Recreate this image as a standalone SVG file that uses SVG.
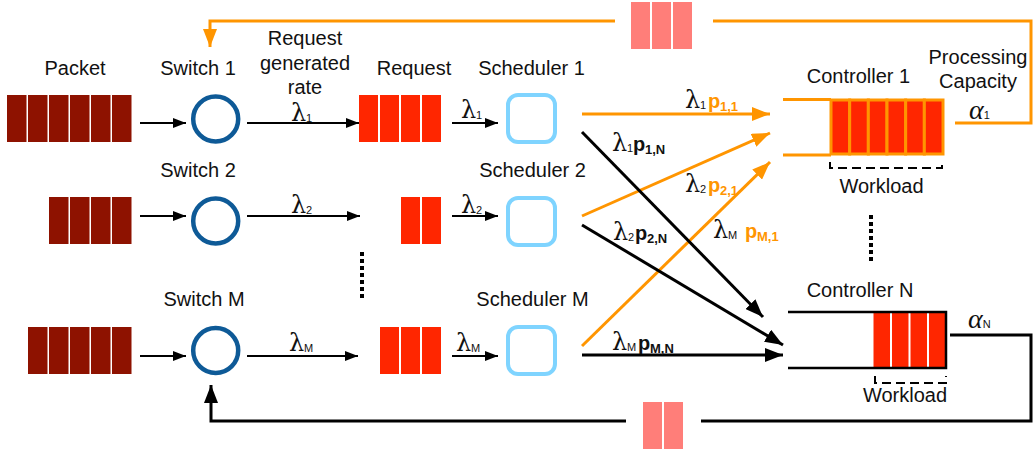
<svg xmlns="http://www.w3.org/2000/svg" width="1033" height="455" viewBox="0 0 1033 455">
<style>
text{font-family:"Liberation Sans",Arial,sans-serif;fill:#111}
.t{font-size:20px}
.m{text-anchor:middle}
.pk{fill:#8e1200}
.rq{fill:#ff2600}
.pn{fill:#ff7e79}
.sw{fill:none;stroke:#0e5a97;stroke-width:4.5}
.sc{fill:none;stroke:#7fd4ff;stroke-width:4}
.lam{font-family:"DejaVu Serif","Liberation Serif",serif;font-size:24px}
.sub{font-size:11px}
.pb{font-size:20px;font-weight:bold}
.ps{font-size:13px;font-weight:bold}
.or{fill:#ff9500}
.alpha{font-family:"Liberation Serif",serif;font-style:italic;font-size:28px}
.ln{fill:none;stroke:#000;stroke-width:2}
.lk{fill:none;stroke:#000;stroke-width:3}
.lo{fill:none;stroke:#ff9500;stroke-width:3}
.dot{fill:none;stroke:#000;stroke-width:4;stroke-dasharray:4 3}
.wl{fill:none;stroke:#000;stroke-width:2;stroke-dasharray:9 5}
</style>
<defs>
<marker id="as" markerUnits="userSpaceOnUse" markerWidth="13" markerHeight="10" refX="13" refY="5" orient="auto"><path d="M0,0 L13,5 L0,10 z" fill="#000"/></marker>
<marker id="ab" markerUnits="userSpaceOnUse" markerWidth="18" markerHeight="14" refX="18" refY="7" orient="auto"><path d="M0,0 L18,7 L0,14 z" fill="#000"/></marker>
<marker id="ao" markerUnits="userSpaceOnUse" markerWidth="18" markerHeight="14" refX="18" refY="7" orient="auto"><path d="M0,0 L18,7 L0,14 z" fill="#ff9500"/></marker>
</defs>

<g id="labels-top">
<text class="t m" x="75" y="75">Packet</text>
<text class="t m" x="305" y="45">Request</text>
<text class="t m" x="305" y="70">generated</text>
<text class="t m" x="305" y="94">rate</text>
<text class="t m" x="414" y="75">Request</text>
</g>

<g id="packet1"><rect class="pk" x="7" y="95" width="19.5" height="47"/><rect class="pk" x="28" y="95" width="19.5" height="47"/><rect class="pk" x="49" y="95" width="19.5" height="47"/><rect class="pk" x="70" y="95" width="19.5" height="47"/><rect class="pk" x="91" y="95" width="19.5" height="47"/><rect class="pk" x="112" y="95" width="19.5" height="47"/></g>
<g id="packet2"><rect class="pk" x="49" y="197" width="19.5" height="47"/><rect class="pk" x="70" y="197" width="19.5" height="47"/><rect class="pk" x="91" y="197" width="19.5" height="47"/><rect class="pk" x="112" y="197" width="19.5" height="47"/></g>
<g id="packetM"><rect class="pk" x="28" y="327" width="19.5" height="47"/><rect class="pk" x="49" y="327" width="19.5" height="47"/><rect class="pk" x="70" y="327" width="19.5" height="47"/><rect class="pk" x="91" y="327" width="19.5" height="47"/><rect class="pk" x="112" y="327" width="19.5" height="47"/></g>

<g id="switch1"><text class="t m" x="198" y="75">Switch 1</text><circle class="sw" cx="215.7" cy="119" r="22.5"/></g>
<g id="switch2"><text class="t m" x="198" y="177">Switch 2</text><circle class="sw" cx="215.7" cy="221" r="22.5"/></g>
<g id="switchM"><text class="t m" x="204" y="306">Switch M</text><circle class="sw" cx="215.7" cy="350.5" r="22.5"/></g>

<g id="request1"><rect class="rq" x="359" y="95" width="19" height="47"/><rect class="rq" x="380" y="95" width="19" height="47"/><rect class="rq" x="401" y="95" width="19" height="47"/><rect class="rq" x="422" y="95" width="19" height="47"/></g>
<g id="request2"><rect class="rq" x="401" y="197" width="19" height="47"/><rect class="rq" x="422" y="197" width="19" height="47"/></g>
<g id="requestM"><rect class="rq" x="380" y="327" width="19" height="47"/><rect class="rq" x="401" y="327" width="19" height="47"/><rect class="rq" x="422" y="327" width="19" height="47"/></g>
<g id="dots-requests"><path class="dot" d="M362 252 V300"/></g>

<g id="scheduler1"><text class="t m" x="531.5" y="75">Scheduler 1</text><rect class="sc" x="508" y="95" width="47" height="47" rx="10"/></g>
<g id="scheduler2"><text class="t m" x="532.5" y="177">Scheduler 2</text><rect class="sc" x="508" y="198" width="47" height="47" rx="10"/></g>
<g id="schedulerM"><text class="t m" x="532.5" y="306">Scheduler M</text><rect class="sc" x="508" y="327" width="47" height="47" rx="10"/></g>

<g id="controller1">
<text class="t m" x="858.5" y="83">Controller 1</text>
<path class="lo" d="M783 99.5 H831 M783 155 H831"/>
<rect x="831" y="100" width="18.67" height="54" fill="#ff2600" stroke="#ff9500" stroke-width="3"/>
<rect x="849.67" y="100" width="18.67" height="54" fill="#ff2600" stroke="#ff9500" stroke-width="3"/>
<rect x="868.33" y="100" width="18.67" height="54" fill="#ff2600" stroke="#ff9500" stroke-width="3"/>
<rect x="887" y="100" width="18.67" height="54" fill="#ff2600" stroke="#ff9500" stroke-width="3"/>
<rect x="905.67" y="100" width="18.67" height="54" fill="#ff2600" stroke="#ff9500" stroke-width="3"/>
<rect x="924.33" y="100" width="18.67" height="54" fill="#ff2600" stroke="#ff9500" stroke-width="3"/>
<path class="wl" d="M830 162 V168 H942 V162"/>
<text class="t m" x="881.5" y="193">Workload</text>
<text class="t m" x="978" y="64">Processing</text>
<text class="t m" x="978" y="88">Capacity</text>
<text x="969" y="119"><tspan class="alpha">α</tspan><tspan class="sub" font-size="12">1</tspan></text>
</g>
<g id="dots-controllers"><path class="dot" d="M871 215 V263"/></g>
<g id="controllerN">
<text class="t m" x="860" y="297">Controller N</text>
<rect class="rq" x="873.5" y="313" width="16.5" height="54"/>
<rect class="rq" x="892" y="313" width="16.5" height="54"/>
<rect class="rq" x="910.5" y="313" width="16.5" height="54"/>
<rect class="rq" x="929" y="313" width="16.5" height="54"/>
<path d="M788 312 H946 V368 H788" fill="none" stroke="#000" stroke-width="2.5"/>
<path class="wl" d="M875 376 V383 H946 V376"/>
<text class="t m" x="905" y="402">Workload</text>
<text x="968" y="328"><tspan class="alpha">α</tspan><tspan class="sub" font-size="12">N</tspan></text>
</g>

<g id="feedback-queue-top"><rect class="pn" x="631" y="2" width="19" height="47"/><rect class="pn" x="652" y="2" width="19" height="47"/><rect class="pn" x="673" y="2" width="19" height="47"/></g>
<g id="feedback-queue-bottom"><rect class="pn" x="643" y="402" width="19" height="47"/><rect class="pn" x="664" y="402" width="19" height="47"/></g>

<g id="connectors">
<path class="ln" d="M140 123 H186" marker-end="url(#as)"/>
<path class="ln" d="M140 216 H186" marker-end="url(#as)"/>
<path class="ln" d="M140 356 H186" marker-end="url(#as)"/>
<path class="ln" d="M247 123 H359" marker-end="url(#as)"/>
<path class="ln" d="M247 216 H360" marker-end="url(#as)"/>
<path class="ln" d="M247 356 H358" marker-end="url(#as)"/>
<path class="ln" d="M452 123 H498" marker-end="url(#as)"/>
<path class="ln" d="M452 216 H498" marker-end="url(#as)"/>
<path class="ln" d="M452 356 H498" marker-end="url(#as)"/>
<path class="lo" d="M582 114 H770" marker-end="url(#ao)"/>
<path class="lo" d="M582 216 L770 133" marker-end="url(#ao)"/>
<path class="lo" d="M582 346 L770 162" marker-end="url(#ao)"/>
<path class="lk" d="M582 132 L763 317" marker-end="url(#ab)"/>
<path class="lk" d="M582 225 L783 345" marker-end="url(#ab)"/>
<path class="lk" d="M582 355 H783" marker-end="url(#ab)"/>
<path class="lo" d="M955 123 H1031 V21 H713"/>
<path class="lo" d="M615 21 H210 V47" marker-end="url(#ao)"/>
<path class="lk" d="M950 335 H1031 V421 H701"/>
<path class="lk" d="M626 421 H211 V385" marker-end="url(#ab)"/>
</g>

<g id="connector-labels">
<text y="121"><tspan class="lam" x="291">λ</tspan><tspan class="sub" x="306" dy="1">1</tspan></text>
<text y="213"><tspan class="lam" x="291">λ</tspan><tspan class="sub" x="306" dy="1">2</tspan></text>
<text y="351"><tspan class="lam" x="289">λ</tspan><tspan class="sub" x="304" dy="1">M</tspan></text>
<text y="118"><tspan class="lam" x="461">λ</tspan><tspan class="sub" x="476" dy="1">1</tspan></text>
<text y="213"><tspan class="lam" x="461">λ</tspan><tspan class="sub" x="476" dy="1">2</tspan></text>
<text y="351"><tspan class="lam" x="456">λ</tspan><tspan class="sub" x="471" dy="1">M</tspan></text>
<text y="108"><tspan class="lam" x="685">λ</tspan><tspan class="sub" x="700" dy="1">1</tspan><tspan class="pb or" x="708" dy="-1">p</tspan><tspan class="ps or" x="720" dy="3">1,1</tspan></text>
<text y="151"><tspan class="lam" x="612">λ</tspan><tspan class="sub" x="627" dy="1">1</tspan><tspan class="pb" x="633" dy="-1">p</tspan><tspan class="ps" x="645" dy="3">1,N</tspan></text>
<text y="192"><tspan class="lam" x="685">λ</tspan><tspan class="sub" x="700" dy="1">2</tspan><tspan class="pb or" x="708" dy="-1">p</tspan><tspan class="ps or" x="720" dy="3">2,1</tspan></text>
<text y="240"><tspan class="lam" x="613">λ</tspan><tspan class="sub" x="628" dy="1">2</tspan><tspan class="pb" x="635" dy="-1">p</tspan><tspan class="ps" x="647" dy="3">2,N</tspan></text>
<text y="238"><tspan class="lam" x="713">λ</tspan><tspan class="sub" x="728" dy="1">M</tspan><tspan class="pb or" x="745" dy="-1">p</tspan><tspan class="ps or" x="757" dy="3">M,1</tspan></text>
<text y="350"><tspan class="lam" x="612">λ</tspan><tspan class="sub" x="627" dy="1">M</tspan><tspan class="pb" x="638" dy="-1">p</tspan><tspan class="ps" x="650" dy="3">M,N</tspan></text>
</g>
</svg>
